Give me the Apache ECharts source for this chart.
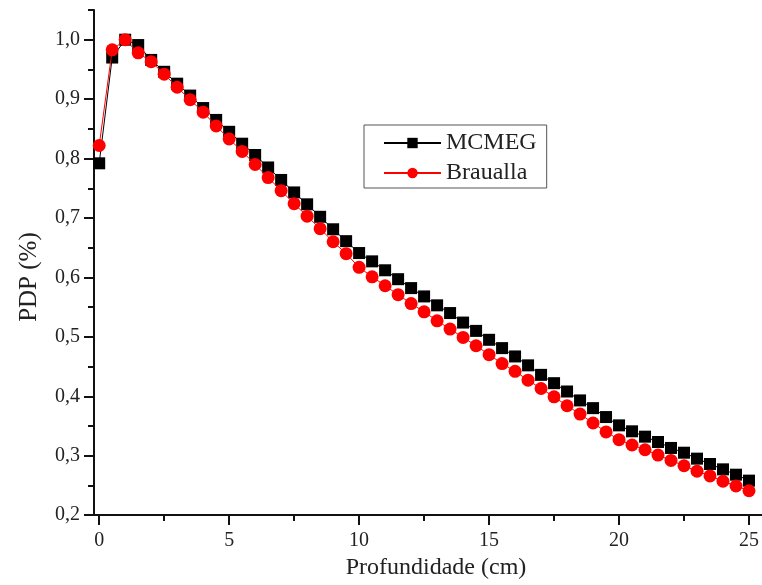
<!DOCTYPE html>
<html>
<head>
<meta charset="utf-8">
<script src="https://cdn.jsdelivr.net/npm/echarts@6/dist/echarts.min.js"></script>
<style>
html,body{margin:0;padding:0;background:#fff;}
#chart{width:762px;height:585px;}
</style>
</head>
<body>
<div id="chart"></div>
<script>
var depth = [0,0.5,1,1.5,2,2.5,3,3.5,4,4.5,5,5.5,6,6.5,7,7.5,8,8.5,9,9.5,10,10.5,11,11.5,12,12.5,13,13.5,14,14.5,15,15.5,16,16.5,17,17.5,18,18.5,19,19.5,20,20.5,21,21.5,22,22.5,23,23.5,24,24.5,25];
var mcmeg = [0.792,0.970,1.000,0.991,0.966,0.946,0.926,0.906,0.885,0.865,0.845,0.825,0.806,0.785,0.764,0.743,0.723,0.702,0.681,0.661,0.641,0.627,0.612,0.597,0.582,0.568,0.553,0.540,0.524,0.510,0.495,0.481,0.467,0.452,0.436,0.422,0.408,0.393,0.380,0.365,0.351,0.341,0.332,0.323,0.313,0.305,0.295,0.286,0.277,0.268,0.258];
var braualla = [0.822,0.983,1.000,0.978,0.963,0.942,0.920,0.899,0.878,0.855,0.833,0.812,0.790,0.768,0.746,0.724,0.703,0.682,0.660,0.640,0.617,0.601,0.586,0.571,0.556,0.542,0.527,0.513,0.499,0.485,0.470,0.455,0.442,0.427,0.413,0.399,0.384,0.370,0.355,0.340,0.327,0.318,0.310,0.301,0.292,0.283,0.274,0.266,0.257,0.249,0.241];
var xMajorTicks = [0,5,10,15,20,25];
var xMinorTicks = [2.5,7.5,12.5,17.5,22.5];
var yMajorTicks = [0.2,0.3,0.4,0.5,0.6,0.7,0.8,0.9,1.0];
var yMinorTicks = [0.25,0.35,0.45,0.55,0.65,0.75,0.85,0.95,1.05];
var seriesNames = ['MCMEG','Braualla'];
var xTitle = 'Profundidade (cm)';
var yTitle = 'PDP (%)';

function pairs(xs, ys){ return xs.map(function(x,i){ return [x, ys[i]]; }); }

var FONT = 'Liberation Serif';
var chart = echarts.init(document.getElementById('chart'), null, {renderer:'canvas'});
var xMin = -0.2, xMax = 25.5, yMin = 0.2, yMax = 1.05;

chart.setOption({
  animation:false,
  backgroundColor:'#fff',
  grid:{left:94, right:0, top:10, bottom:64, containLabel:false},
  legend:{
    orient:'vertical', left:364, top:125,
    data:seriesNames,
    itemWidth:57, itemHeight:13, itemGap:6,
    padding:[6,10,3,19],
    borderColor:'#555', borderWidth:1,
    textStyle:{fontFamily:FONT, fontSize:24, color:'#222'}
  },
  xAxis:[{
    type:'value', min:xMin, max:xMax, position:'bottom',
    axisLine:{show:true, onZero:false, lineStyle:{color:'#111', width:2}},
    axisTick:{show:true, inside:false, length:10, customValues:xMajorTicks, lineStyle:{color:'#111', width:2}},
    axisLabel:{show:true, customValues:xMajorTicks, margin:16, fontFamily:FONT, fontSize:20, color:'#222',
      formatter:function(v){ return String(v); }},
    splitLine:{show:false},
    name:xTitle, nameLocation:'middle', nameGap:36,
    nameTextStyle:{fontFamily:FONT, fontSize:24, color:'#222', padding:[0,0,0,16]}
  },{
    type:'value', min:xMin, max:xMax, position:'bottom', gridIndex:0,
    axisLine:{show:false, onZero:false},
    axisTick:{show:true, inside:false, length:6, customValues:xMinorTicks, lineStyle:{color:'#111', width:2}},
    axisLabel:{show:false},
    splitLine:{show:false}
  }],
  yAxis:[{
    type:'value', min:yMin, max:yMax, position:'left',
    axisLine:{show:true, onZero:false, lineStyle:{color:'#111', width:2}},
    axisTick:{show:true, inside:false, length:10, customValues:yMajorTicks, lineStyle:{color:'#111', width:2}},
    axisLabel:{show:true, customValues:yMajorTicks, margin:14, fontFamily:FONT, fontSize:20, color:'#222',
      formatter:function(v){ return v.toFixed(1).replace('.', ','); }},
    splitLine:{show:false},
    name:yTitle, nameLocation:'middle', nameGap:52, nameRotate:90,
    nameTextStyle:{fontFamily:FONT, fontSize:25, color:'#222', padding:[0,29,0,0]}
  },{
    type:'value', min:yMin, max:yMax, position:'left', gridIndex:0,
    axisLine:{show:false, onZero:false},
    axisTick:{show:true, inside:false, length:6, customValues:yMinorTicks, lineStyle:{color:'#111', width:2}},
    axisLabel:{show:false},
    splitLine:{show:false}
  }],
  series:[{
    name:seriesNames[0], type:'line', xAxisIndex:0, yAxisIndex:0,
    data:pairs(depth, mcmeg),
    symbol:'rect', symbolSize:12, showAllSymbol:true,
    itemStyle:{color:'#000'},
    lineStyle:{color:'#000', width:1},
    z:2
  },{
    name:seriesNames[1], type:'line', xAxisIndex:0, yAxisIndex:0,
    data:pairs(depth, braualla),
    symbol:'circle', symbolSize:13, showAllSymbol:true,
    itemStyle:{color:'#ff0000'},
    lineStyle:{color:'#ff0000', width:1},
    z:3
  }]
});
</script>
</body>
</html>
